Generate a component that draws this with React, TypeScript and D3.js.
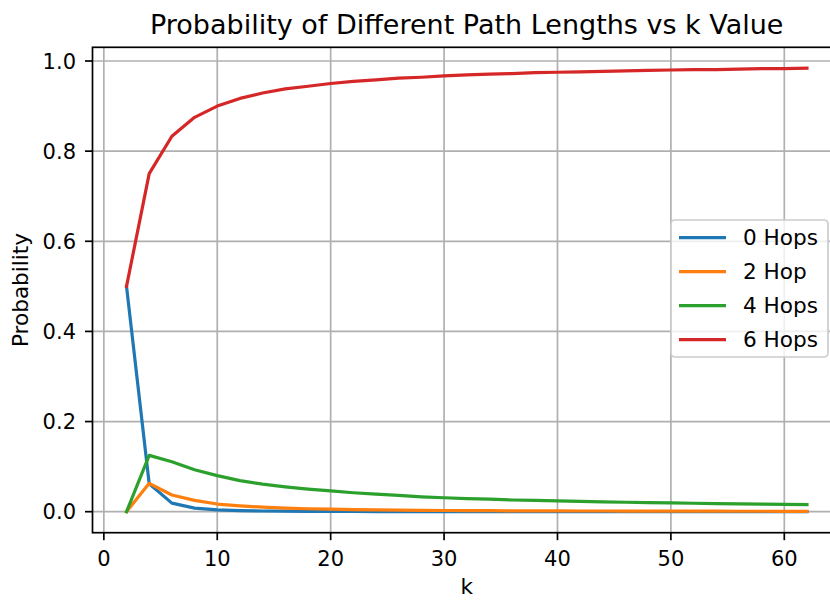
import React, { useEffect, useRef } from "react";
import * as d3 from "d3";

// k values on the x axis
const kValues = [2, 4, 6, 8, 10, 12, 14, 16, 18, 20, 22, 24, 26, 28, 30, 32, 34, 36, 38, 40, 42, 44, 46, 48, 50, 52, 54, 56, 58, 60, 62];

// probability for each path length
const hops0 = [0.5, 0.062, 0.019, 0.008, 0.004, 0.0025, 0.0016, 0.0011, 0.0008, 0.0006, 0.0004, 0.0003, 0.0003, 0.0002, 0.0002, 0.0001, 0.0001, 0.0001, 0.0001, 0.0001, 0, 0, 0, 0, 0, 0, 0, 0, 0, 0, 0];
const hops2 = [0, 0.063, 0.037, 0.025, 0.017, 0.013, 0.01, 0.008, 0.0065, 0.0055, 0.0046, 0.004, 0.0035, 0.003, 0.0027, 0.0024, 0.0022, 0.002, 0.0018, 0.0017, 0.0016, 0.0015, 0.0014, 0.0013, 0.0012, 0.0011, 0.0011, 0.001, 0.001, 0.0009, 0.0009];
const hops4 = [0, 0.125, 0.111, 0.093, 0.08, 0.069, 0.061, 0.055, 0.05, 0.046, 0.042, 0.039, 0.036, 0.033, 0.031, 0.029, 0.028, 0.026, 0.025, 0.024, 0.023, 0.022, 0.021, 0.0202, 0.0195, 0.0187, 0.018, 0.0174, 0.0168, 0.0163, 0.0158];
const hops6 = [0.5, 0.75, 0.833, 0.875, 0.9, 0.917, 0.929, 0.938, 0.944, 0.95, 0.955, 0.958, 0.962, 0.964, 0.967, 0.969, 0.971, 0.972, 0.974, 0.975, 0.976, 0.977, 0.978, 0.979, 0.98, 0.981, 0.981, 0.982, 0.983, 0.983, 0.984];

const seriesNames = ["0 Hops", "2 Hop", "4 Hops", "6 Hops"];
const seriesColors = ["#1f77b4", "#ff7f0e", "#2ca02c", "#d62728"];

const xTicks = [0, 10, 20, 30, 40, 50, 60];
const yTicks = [0.0, 0.2, 0.4, 0.6, 0.8, 1.0];

const FONT = "DejaVu Sans, sans-serif";

function Chart() {
  const ref = useRef<SVGSVGElement>(null);

  useEffect(() => {
    const svg = d3.select(ref.current);
    svg.selectAll("*").remove();

    const left = 92.5, right = 841, top = 47.3, bottom = 532.7;

    const x = d3.scaleLinear().domain([-1, 65]).range([left, right]);
    const y = d3.scaleLinear().domain([-0.0466, 1.0304]).range([bottom, top]);

    const g = svg.append("g");

    // grid
    g.selectAll(".xgrid")
      .data(xTicks)
      .join("line")
      .attr("x1", d => x(d)).attr("x2", d => x(d))
      .attr("y1", top).attr("y2", bottom)
      .attr("stroke", "#b0b0b0").attr("stroke-width", 1.7);
    g.selectAll(".ygrid")
      .data(yTicks)
      .join("line")
      .attr("x1", left).attr("x2", right)
      .attr("y1", d => y(d)).attr("y2", d => y(d))
      .attr("stroke", "#b0b0b0").attr("stroke-width", 1.7);

    // lines
    const allSeries = [hops0, hops2, hops4, hops6];
    const line = d3.line<number>()
      .x((d, i) => x(kValues[i]))
      .y(d => y(d));
    g.selectAll(".series")
      .data(allSeries)
      .join("path")
      .attr("d", d => line(d))
      .attr("fill", "none")
      .attr("stroke", (d, i) => seriesColors[i])
      .attr("stroke-width", 3.2)
      .attr("stroke-linejoin", "round")
      .attr("stroke-linecap", "square");

    // spines
    g.append("rect")
      .attr("x", left).attr("y", top)
      .attr("width", right - left).attr("height", bottom - top)
      .attr("fill", "none").attr("stroke", "black").attr("stroke-width", 1.7);

    // x ticks
    const xt = g.selectAll(".xt").data(xTicks).join("g")
      .attr("transform", d => `translate(${x(d)},${bottom})`);
    xt.append("line").attr("y2", 7.5).attr("stroke", "black").attr("stroke-width", 1.7);
    xt.append("text")
      .attr("y", 33.5)
      .attr("text-anchor", "middle")
      .attr("font-family", FONT).attr("font-size", 21)
      .text(d => d);

    // y ticks
    const yt = g.selectAll(".yt").data(yTicks).join("g")
      .attr("transform", d => `translate(${left},${y(d)})`);
    yt.append("line").attr("x2", -7.5).attr("stroke", "black").attr("stroke-width", 1.7);
    yt.append("text")
      .attr("x", -16.5).attr("dy", "0.36em")
      .attr("text-anchor", "end")
      .attr("font-family", FONT).attr("font-size", 21)
      .text(d => d.toFixed(1));

    // axis labels and title
    g.append("text")
      .attr("x", (left + right) / 2).attr("y", 594)
      .attr("text-anchor", "middle")
      .attr("font-family", FONT).attr("font-size", 21.6)
      .text("k");
    g.append("text")
      .attr("transform", `translate(28,${(top + bottom) / 2}) rotate(-90)`)
      .attr("text-anchor", "middle")
      .attr("font-family", FONT).attr("font-size", 21.6)
      .text("Probability");
    g.append("text")
      .attr("x", (left + right) / 2).attr("y", 33.5)
      .attr("text-anchor", "middle")
      .attr("font-family", FONT).attr("font-size", 27)
      .text("Probability of Different Path Lengths vs k Value");

    // legend
    const lg = g.append("g");
    lg.append("rect")
      .attr("x", 671).attr("y", 220)
      .attr("width", 157).attr("height", 137)
      .attr("rx", 4)
      .attr("fill", "white").attr("fill-opacity", 0.8)
      .attr("stroke", "#cccccc").attr("stroke-width", 1.7);
    const items = lg.selectAll(".item").data(seriesNames).join("g")
      .attr("transform", (d, i) => `translate(0,${237.7 + i * 34})`);
    items.append("line")
      .attr("x1", 679).attr("x2", 726)
      .attr("stroke", (d, i) => seriesColors[i])
      .attr("stroke-width", 3.2);
    items.append("text")
      .attr("x", 743).attr("dy", "0.36em")
      .attr("font-family", FONT).attr("font-size", 21.6)
      .text(d => d);
  }, []);

  return <svg ref={ref} width={830} height={600} style={{ position: "absolute", left: 0, top: 0, background: "white" }} />;
}

export default function App() {
  return <Chart />;
}
